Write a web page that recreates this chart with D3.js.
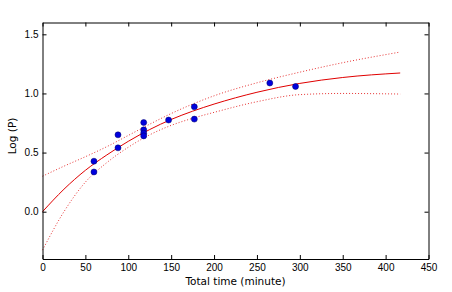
<!DOCTYPE html>
<html>
<head>
<meta charset="utf-8">
<script src="https://cdn.jsdelivr.net/npm/d3@7"></script>
<style>
  body { margin: 0; background: #fff; }
  svg { display: block; font-family: "DejaVu Sans", sans-serif; }
</style>
</head>
<body>
<svg id="chart" width="452" height="292"></svg>
<script>
// measured points
var timeMin = [60, 60, 88, 88, 118, 118, 118, 118, 147, 177, 177, 265, 295];
var logP = [0.427, 0.336, 0.65, 0.54, 0.754, 0.692, 0.664, 0.641, 0.775, 0.887, 0.783, 1.088, 1.059];

var fitTime = [0, 25, 50, 75, 100, 125, 150, 175, 200, 250, 300, 350, 417];
var fitLog = [0, 0.19, 0.35, 0.48, 0.595, 0.695, 0.78, 0.85, 0.91, 1.01, 1.085, 1.135, 1.173];
var bandHigh = [0.30, 0.385, 0.465, 0.55, 0.645, 0.74, 0.83, 0.91, 0.98, 1.09, 1.18, 1.26, 1.35];
var bandLow = [-0.325, 0.0, 0.25, 0.415, 0.545, 0.65, 0.73, 0.79, 0.84, 0.93, 0.99, 1.0, 0.995];

var xTicks = [0, 50, 100, 150, 200, 250, 300, 350, 400, 450];
var yTicks = [0, 0.5, 1.0, 1.5];

var svg = d3.select("#chart");
var leftX = 42.5, rightX = 428.5, topY = 22.5, bottomY = 259;

var xScale = d3.scaleLinear().domain([0, 450]).range([leftX, rightX]);
var yScale = d3.scaleLinear().domain([-0.4, 1.6]).range([bottomY, topY]);

// bands (dotted) and fit (solid)
function series(ys) {
    return fitTime.map(function(t, i) { return [t, ys[i]]; });
}
var line = d3.line()
    .x(function(d) { return xScale(d[0]); })
    .y(function(d) { return yScale(d[1]); })
    .curve(d3.curveMonotoneX);

[bandHigh, bandLow].forEach(function(b) {
    svg.append("path")
    .attr("d", line(series(b)))
    .attr("fill", "none")
    .attr("stroke", "#e00000")
    .attr("stroke-opacity", 0.8)
    .attr("stroke-width", 1)
    .attr("stroke-dasharray", "1,2");
});

svg.append("path")
    .attr("d", line(series(fitLog)))
    .attr("fill", "none")
    .attr("stroke", "#e00000")
    .attr("stroke-width", 1);

svg.selectAll("circle")
    .data(timeMin)
    .enter()
    .append("circle")
    .attr("cx", function(d) { return xScale(d); })
    .attr("cy", function(d, i) { return yScale(logP[i]); })
    .attr("r", 3)
    .attr("fill", "#0000dd")
    .attr("stroke", "#000066")
    .attr("stroke-width", 0.5);

// axes, ticks pointing inward on all four sides
function styleAxis(g) {
    g.selectAll("path").attr("stroke", "#000").attr("stroke-width", 1);
    g.selectAll("line").attr("stroke", "#000");
    g.selectAll("text").attr("fill", "#000").style("font-size", "10px");
}

svg.append("g")
    .attr("transform", "translate(0," + bottomY + ")")
    .call(d3.axisBottom(xScale).tickValues(xTicks).tickSize(-4).tickSizeOuter(0).tickPadding(5).tickFormat(d3.format("d")))
    .call(styleAxis);

svg.append("g")
    .attr("transform", "translate(0," + topY + ")")
    .call(d3.axisTop(xScale).tickValues(xTicks).tickSize(-4).tickSizeOuter(0).tickFormat(""))
    .call(styleAxis);

svg.append("g")
    .attr("transform", "translate(" + leftX + ",0)")
    .call(d3.axisLeft(yScale).tickValues(yTicks).tickSize(-4).tickSizeOuter(0).tickPadding(4).tickFormat(d3.format(".1f")))
    .call(styleAxis);

svg.append("g")
    .attr("transform", "translate(" + rightX + ",0)")
    .call(d3.axisRight(yScale).tickValues(yTicks).tickSize(-4).tickSizeOuter(0).tickFormat(""))
    .call(styleAxis);

// axis titles
svg.append("text")
    .attr("x", (leftX + rightX) / 2)
    .attr("y", 285)
    .attr("text-anchor", "middle")
    .style("font-size", "10.5px")
    .text("Total time (minute)");

svg.append("text")
    .attr("transform", "translate(16,136) rotate(-90)")
    .attr("text-anchor", "middle")
    .style("font-size", "10.5px")
    .text("Log (P)");
</script>
</body>
</html>
